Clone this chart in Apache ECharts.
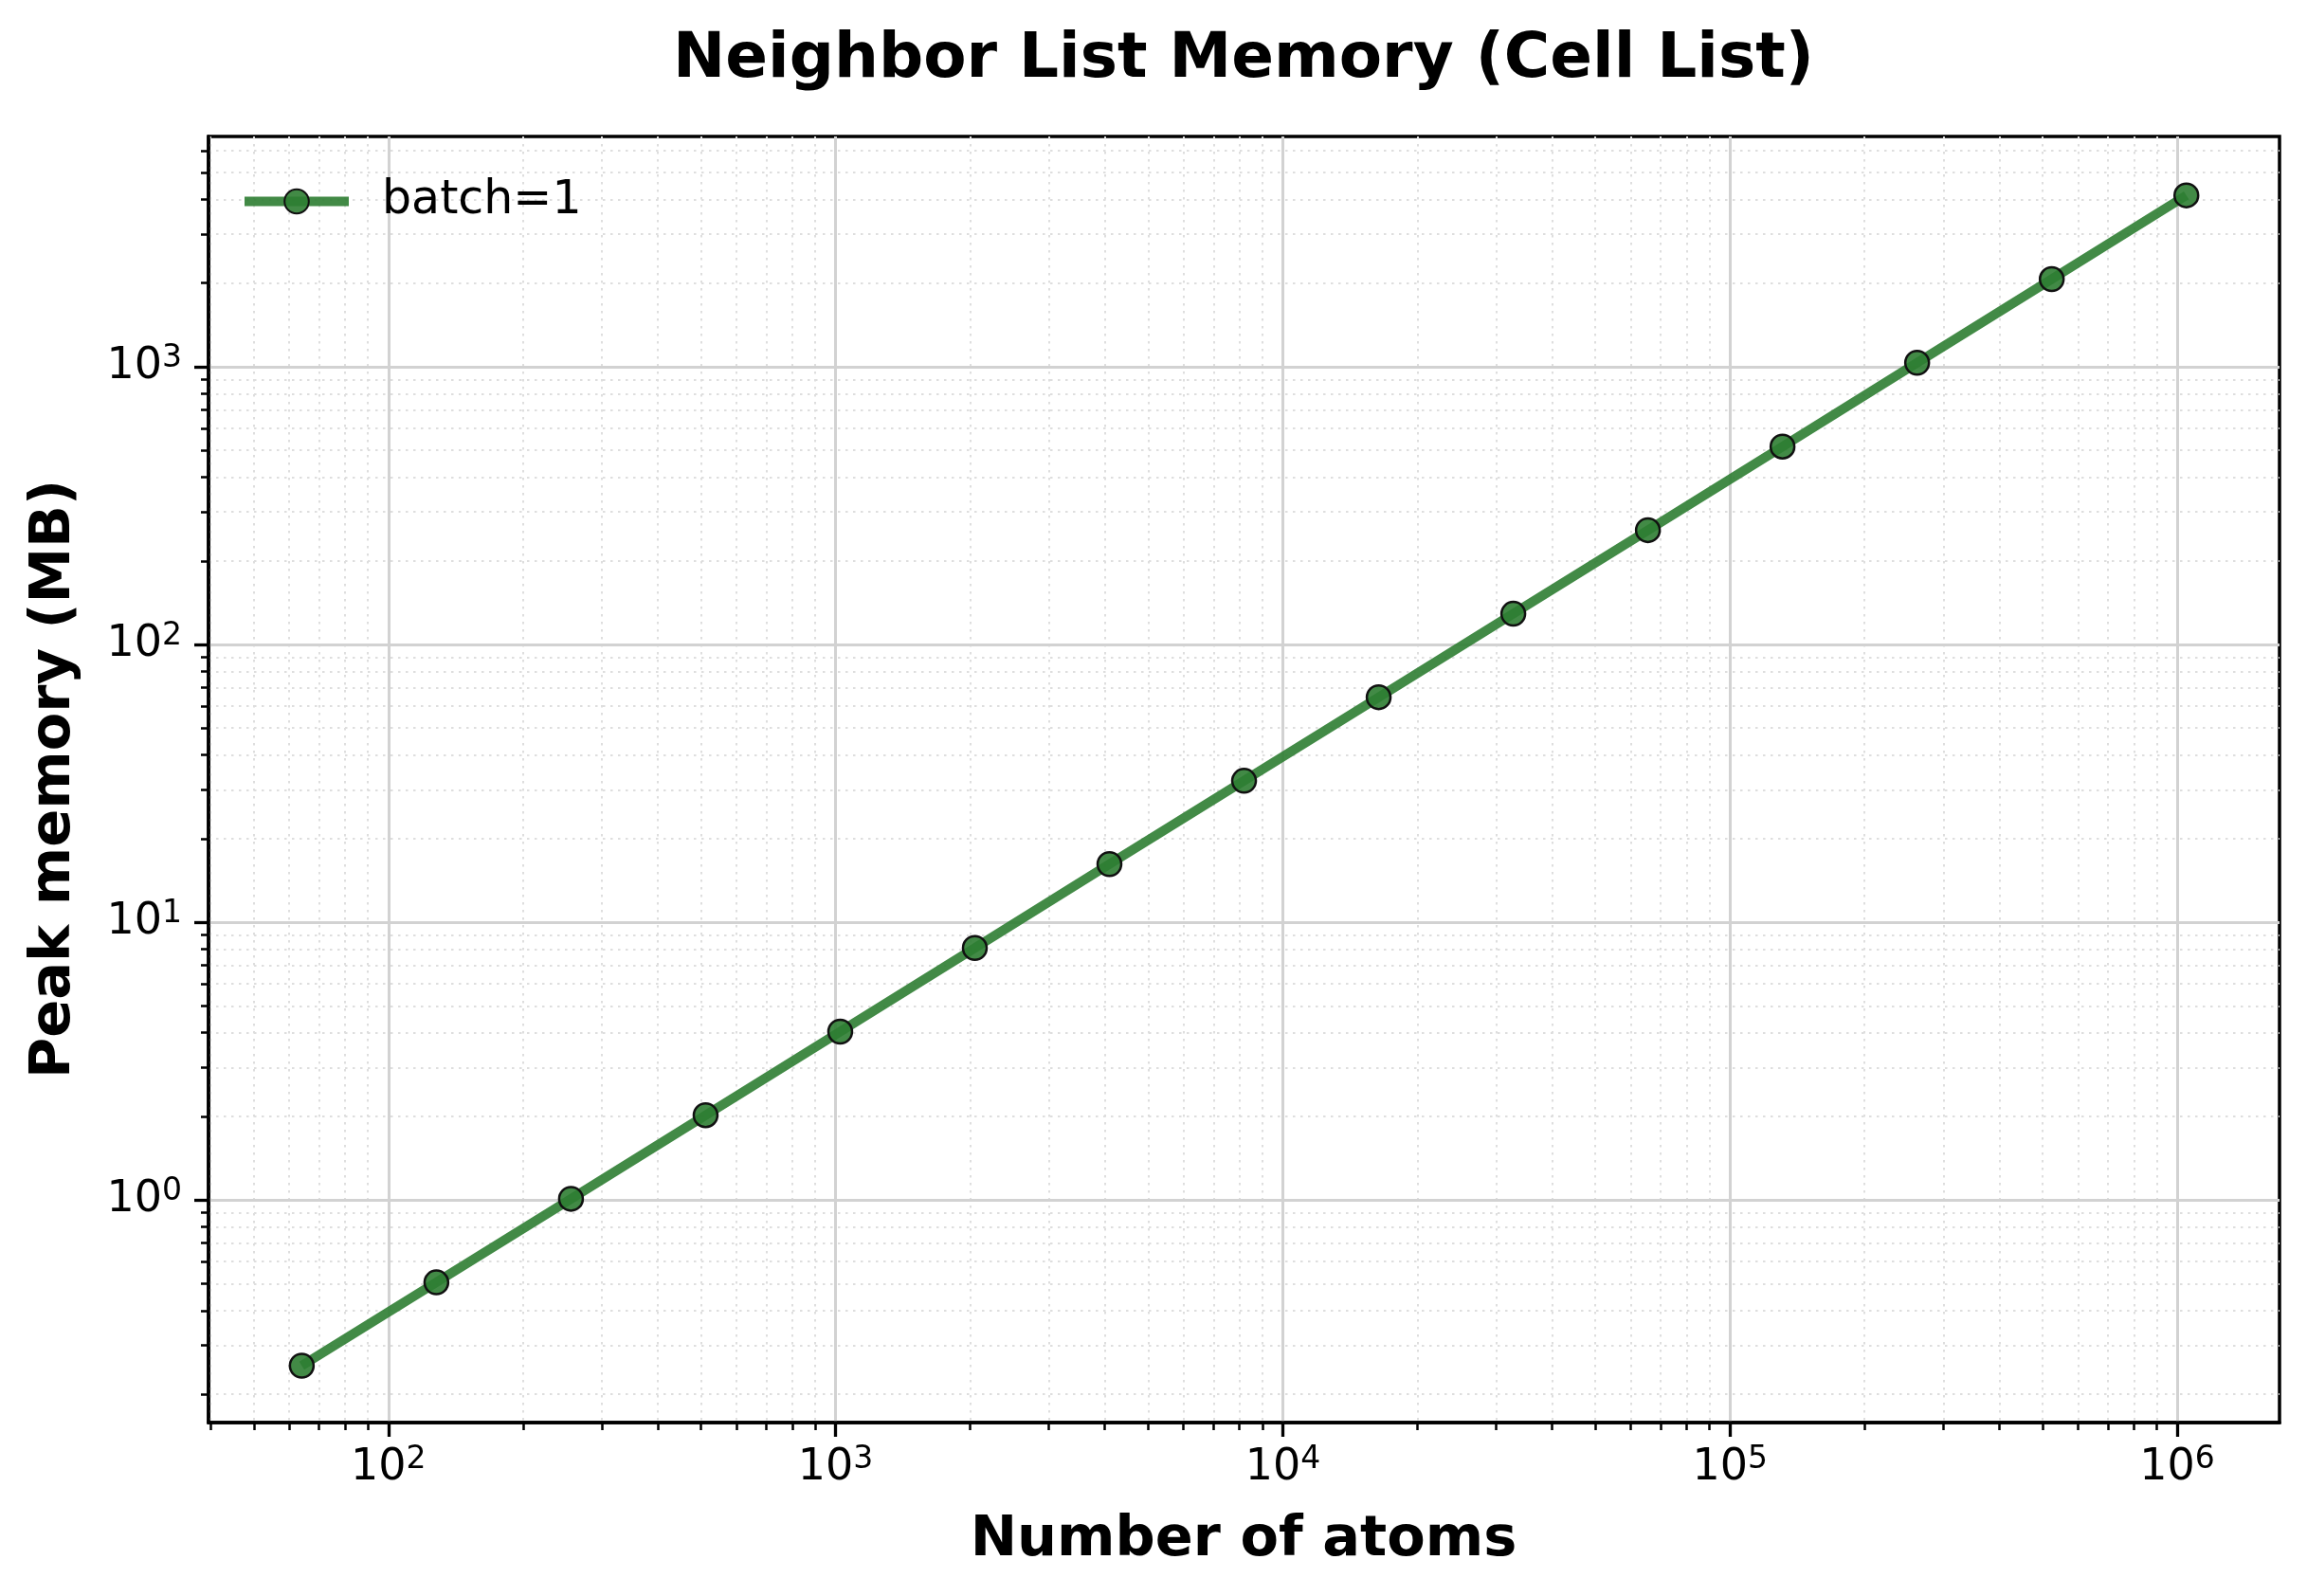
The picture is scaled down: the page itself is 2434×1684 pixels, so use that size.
<!DOCTYPE html>
<html>
<head>
<meta charset="utf-8">
<script src="https://cdn.jsdelivr.net/npm/echarts@6/dist/echarts.min.js"></script>
<style>
html,body{margin:0;padding:0;background:#fff;}
#chart{width:2434px;height:1684px;}
</style>
</head>
<body>
<div id="chart"></div>
<script>
// ---- data ----
const seriesName = 'batch=1';
const atoms = [64, 128, 256, 512, 1024, 2048, 4096, 8192, 16384, 32768, 65536, 131072, 262144, 524288, 1048576];
const memoryMB = [0.253, 0.505, 1.01, 2.02, 4.04, 8.08, 16.2, 32.3, 64.6, 129, 258, 516, 1033, 2066, 4140];
const xMajorExps = [2, 3, 4, 5, 6];
const yMajorExps = [0, 1, 2, 3];
const titleText = 'Neighbor List Memory (Cell List)';
const xLabelText = 'Number of atoms';
const yLabelText = 'Peak memory (MB)';

// axis ranges (data units)
const xMin = 39.6, xMax = 1.694e6;
const yMin = 0.158, yMax = 6745;

function minorLogs(lo, hi) {
  const out = [];
  for (let e = Math.floor(Math.log10(lo)) - 1; e <= Math.ceil(Math.log10(hi)); e++) {
    for (let m = 2; m <= 9; m++) {
      const v = m * Math.pow(10, e);
      if (v >= lo && v <= hi) out.push(Math.log10(v));
    }
  }
  return out;
}

const FONT = '"DejaVu Sans", "Liberation Sans", sans-serif';
const seriesData = atoms.map((n, i) => [Math.log10(n), Math.log10(memoryMB[i])]);

const powLabel = v => '{b|10}{s|' + Math.round(v) + '}';
const richPow = {
  b: { fontSize: 46, fontFamily: FONT, color: '#000', lineHeight: 50 },
  s: { fontSize: 33, fontFamily: FONT, color: '#000', lineHeight: 20, verticalAlign: 'top' }
};

const majorSplit = { show: true, lineStyle: { color: '#d2d2d2', width: 3, type: 'solid' } };
const minorSplit = { show: true, lineStyle: { color: '#dedede', width: 2, type: [2.5, 5.5] } };

const chart = echarts.init(document.getElementById('chart'), null, { renderer: 'canvas' });

const option = {
  backgroundColor: '#fff',
  animation: false,
  grid: {
    left: 220, top: 144, right: 29, bottom: 183,
    show: true, borderColor: '#000', borderWidth: 3.5, backgroundColor: 'transparent'
  },
  legend: {
    data: [seriesName],
    left: 253, top: 188,
    padding: 0,
    itemWidth: 110, itemHeight: 32,
    lineStyle: { width: 10, color: '#2e7d32', opacity: 0.9 },
    textStyle: { fontSize: 49, fontFamily: FONT, color: '#000', padding: [0, 0, 0, 30] }
  },
  xAxis: [
    {
      type: 'value', min: Math.log10(xMin), max: Math.log10(xMax), position: 'bottom',
      axisLine: { show: true, onZero: false, lineStyle: { color: '#000', width: 3.5 } },
      axisTick: { show: true, customValues: xMajorExps, length: 15, lineStyle: { color: '#000', width: 3.3 } },
      axisLabel: { show: true, customValues: xMajorExps, margin: 23, formatter: powLabel, rich: richPow },
      splitLine: majorSplit, z: 3
    },
    {
      type: 'value', min: Math.log10(xMin), max: Math.log10(xMax), position: 'bottom',
      axisLine: { show: false, onZero: false },
      axisTick: { show: true, customValues: minorLogs(xMin, xMax), length: 8, lineStyle: { color: '#000', width: 2.5 } },
      axisLabel: { show: false },
      splitLine: minorSplit, z: 2
    }
  ],
  yAxis: [
    {
      type: 'value', min: Math.log10(yMin), max: Math.log10(yMax), position: 'left',
      axisLine: { show: true, onZero: false, lineStyle: { color: '#000', width: 3.5 } },
      axisTick: { show: true, customValues: yMajorExps, length: 15, lineStyle: { color: '#000', width: 3.3 } },
      axisLabel: { show: true, customValues: yMajorExps, margin: 28, formatter: powLabel, rich: richPow },
      splitLine: majorSplit, z: 3
    },
    {
      type: 'value', min: Math.log10(yMin), max: Math.log10(yMax), position: 'left',
      axisLine: { show: false, onZero: false },
      axisTick: { show: true, customValues: minorLogs(yMin, yMax), length: 8, lineStyle: { color: '#000', width: 2.5 } },
      axisLabel: { show: false },
      splitLine: minorSplit, z: 2
    }
  ],
  series: [{
    name: seriesName,
    type: 'line',
    xAxisIndex: 0, yAxisIndex: 0,
    data: seriesData,
    symbol: 'circle',
    symbolSize: 25,
    z: 10,
    lineStyle: { color: '#2e7d32', width: 10, opacity: 0.9 },
    itemStyle: { color: 'rgba(46,125,50,0.9)', borderColor: '#111', borderWidth: 2.5 }
  }],
  graphic: [
    { type: 'text', x: 1312, y: 64, style: { text: titleText, font: 'bold 66px ' + FONT, fill: '#000', textAlign: 'center', textVerticalAlign: 'middle' } },
    { type: 'text', x: 1312, y: 1626, style: { text: xLabelText, font: 'bold 59px ' + FONT, fill: '#000', textAlign: 'center', textVerticalAlign: 'middle' } },
    { type: 'text', x: 58, y: 822, rotation: Math.PI / 2, style: { text: yLabelText, font: 'bold 59px ' + FONT, fill: '#000', textAlign: 'center', textVerticalAlign: 'middle' } }
  ]
};
chart.setOption(option);
</script>
</body>
</html>
